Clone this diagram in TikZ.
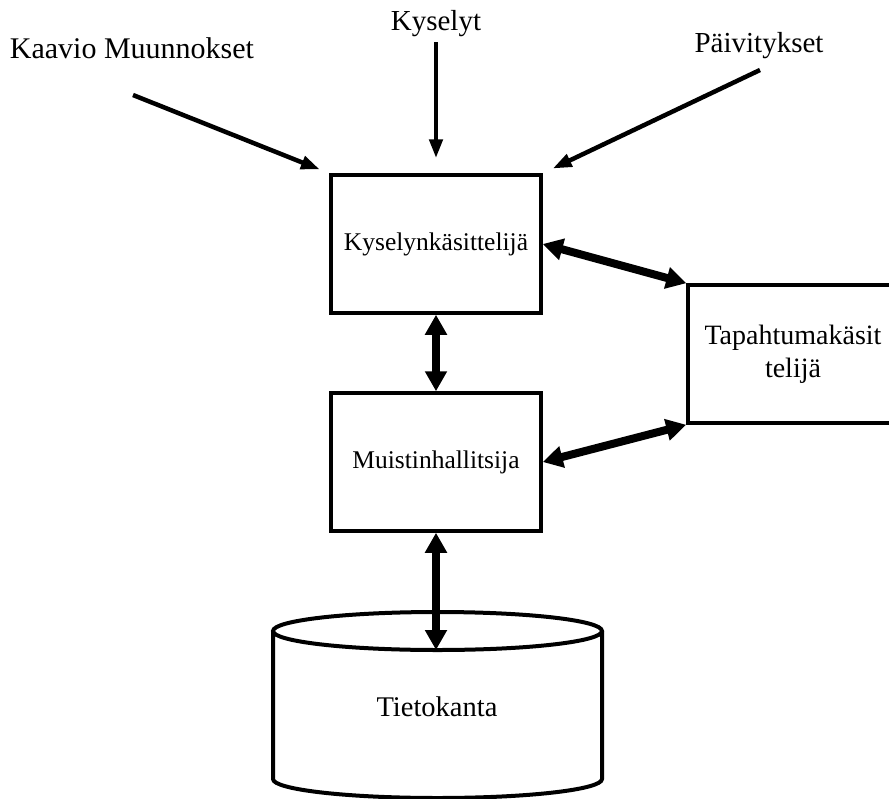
\documentclass[tikz,border=0pt]{standalone}
\usepackage{fontspec}
\setmainfont{Liberation Serif}
\usetikzlibrary{arrows.meta}
\begin{document}
\begin{tikzpicture}[x=1pt,y=-1pt,
  box/.style={draw, line width=3.5pt, minimum width=210pt, minimum height=138pt,
    inner sep=0pt, font=\fontsize{25.5}{30}\selectfont},
  inlabel/.style={anchor=base, inner sep=0pt, font=\fontsize{29}{34}\selectfont},
  inarrow/.style={line width=4.5pt, -{Triangle[length=19pt,width=13pt]}},
  bigarrow/.style={line width=8pt,
    {Triangle[length=20pt,width=21pt]}-{Triangle[length=20pt,width=21pt]}},
  dbline/.style={line width=4pt}]
\useasboundingbox (0,0) rectangle (889,798);
\clip (0,0) rectangle (889,798);
\fill[white] (0,0) rectangle (889,798);

% processing blocks
\node[box] (k) at (436,244) {Kyselynkäsittelijä};
\node[box] (m) at (436,462) {Muistinhallitsija};
\node[box, align=center, font=\fontsize{28}{33}\selectfont] (t) at (793,354)
  {Tapahtumakäsit\\telijä};

% database cylinder
\draw[dbline] (437.5,631) ellipse[x radius=164.5, y radius=19];
\draw[dbline] (273,631) -- (273,779)
  arc[start angle=180, end angle=0, x radius=164.5, y radius=19] -- (602,631);
\node[inner sep=0pt, font=\fontsize{28.5}{33}\selectfont] (db) at (437,707) {Tietokanta};
\coordinate (dbtop) at (436,650);

% incoming requests
\node[inlabel, font=\fontsize{30}{34}\selectfont] (l1) at (132,58) {Kaavio Muunnokset};
\node[inlabel] (l2) at (436,30) {Kyselyt};
\node[inlabel] (l3) at (759,52) {Päivitykset};
\coordinate (s1) at (133,95);
\coordinate (s2) at (436,42);
\coordinate (s3) at (760,70);

\draw[inarrow, shorten >=10pt] (s1) -- (k.north west);
\draw[inarrow, shorten >=15pt] (s2) -- (k.north);
\draw[inarrow, shorten >=11pt] (s3) -- (k.north east);

% two-way links
\draw[bigarrow] (k.east) -- (t.north west);
\draw[bigarrow] (m.east) -- (t.south west);
\draw[bigarrow] (k.south) -- (m.north);
\draw[bigarrow] (m.south) -- (dbtop);
\end{tikzpicture}
\end{document}
